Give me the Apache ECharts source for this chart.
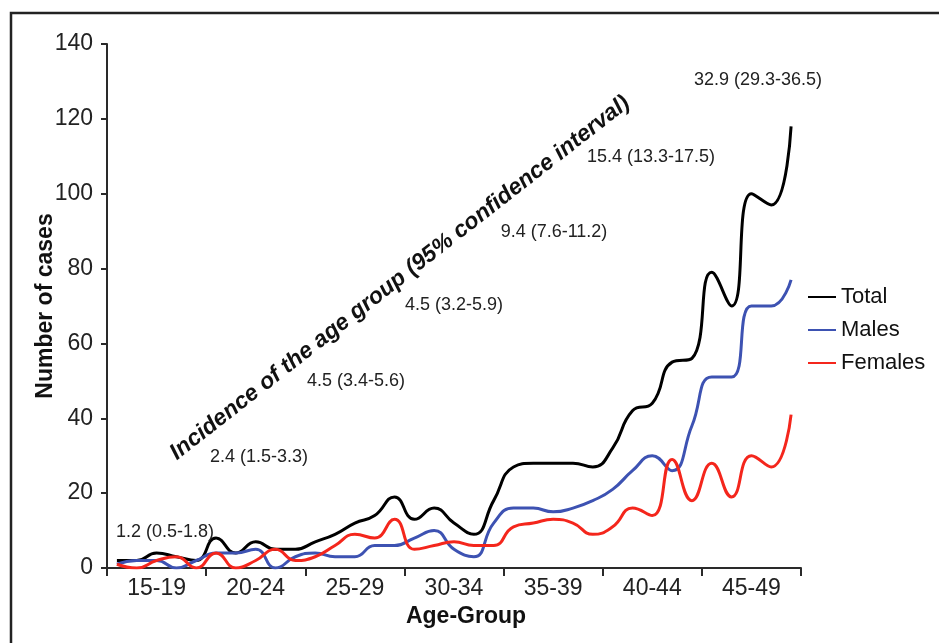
<!DOCTYPE html>
<html>
<head>
<meta charset="utf-8">
<script src="https://cdn.jsdelivr.net/npm/echarts@6/dist/echarts.min.js"></script>
<style>
html, body { margin: 0; padding: 0; background: #fff; }
#chart { width: 939px; height: 643px; }
</style>
</head>
<body>
<div id="chart"></div>
<script>
// Single years of age, grouped into five-year bands on the axis
const ages = ['15','16','17','18','19','20','21','22','23','24','25','26','27','28','29',
              '30','31','32','33','34','35','36','37','38','39','40','41','42','43','44',
              '45','46','47','48','49'];
const ageGroups = ['15-19','20-24','25-29','30-34','35-39','40-44','45-49'];

// Number of cases per year of age
const totalCases  = [2,2,4,3,2,8,4,7,5,5,7,9,12,14,19,13,16,12,9,18,27,28,28,28,27,32,42,44,55,56,79,70,100,97,118];
const maleCases   = [1,2,2,0,2,4,4,5,0,3,4,3,3,6,6,8,10,5,3,12,16,16,15,16,18,21,26,30,26,38,51,51,70,70,77];
const femaleCases = [1,0,2,3,0,4,0,2,5,2,3,6,9,8,13,5,6,7,6,6,11,12,13,12,9,11,16,14,29,18,28,19,30,27,41];

// Incidence per age group with 95% confidence interval
const groupIncidence = ['1.2 (0.5-1.8)','2.4 (1.5-3.3)','4.5 (3.4-5.6)','4.5 (3.2-5.9)',
                        '9.4 (7.6-11.2)','15.4 (13.3-17.5)','32.9 (29.3-36.5)'];
const incidenceTitle = 'Incidence of the age group (95% confidence interval)';

const yTicks = { min: 0, max: 140, step: 20 };

// Where each incidence note sits (pixel centres)
const incidenceLabelPos = [[165,532],[259,457],[356,381],[454,305],[554,232],[651,157],[758,80]];

const FONT = '"Liberation Sans", Arial, Helvetica, sans-serif';
const AXIS_COLOR = '#2a2a2a';

const chart = echarts.init(document.getElementById('chart'), null, { renderer: 'canvas' });

const graphics = [
  {
    type: 'rect', silent: true, z: 100,
    shape: { x: 11, y: 13, width: 960, height: 660 },
    style: { fill: 'none', stroke: '#222', lineWidth: 2.5 }
  },
  {
    type: 'text', silent: true, z: 50,
    x: 400, y: 278, rotation: 38 * Math.PI / 180,
    style: {
      text: incidenceTitle,
      font: 'italic bold 23px ' + FONT,
      fill: '#111', align: 'center', verticalAlign: 'middle'
    }
  }
];
groupIncidence.forEach((txt, i) => {
  graphics.push({
    type: 'text', silent: true, z: 50,
    x: incidenceLabelPos[i][0], y: incidenceLabelPos[i][1],
    style: {
      text: txt, font: '18px ' + FONT, fill: '#222',
      align: 'center', verticalAlign: 'middle'
    }
  });
});

const option = {
  backgroundColor: '#fff',
  animation: false,
  grid: { left: 107, right: 138, top: 44, bottom: 75, containLabel: false },
  legend: {
    orient: 'vertical',
    left: 807, top: 285,
    itemWidth: 28, itemHeight: 14, itemGap: 9,
    padding: 0,
    itemStyle: { opacity: 0 },
    textStyle: { fontFamily: FONT, fontSize: 22, color: '#111', lineHeight: 24 },
    data: ['Total', 'Males', 'Females']
  },
  xAxis: {
    type: 'category',
    data: ages,
    boundaryGap: true,
    name: 'Age-Group',
    nameLocation: 'middle',
    nameGap: 35,
    nameTextStyle: { fontFamily: FONT, fontSize: 23, fontWeight: 'bold', color: '#111', padding: [0, 0, 0, 24] },
    axisLine: { lineStyle: { color: AXIS_COLOR, width: 2 } },
    axisTick: {
      show: true, length: 8, lineStyle: { color: AXIS_COLOR, width: 2 },
      interval: (i) => i % 5 === 0
    },
    axisLabel: {
      interval: (i) => i % 5 === 2,
      formatter: (v, i) => ageGroups[Math.floor(i / 5)],
      fontFamily: FONT, fontSize: 23, color: '#222', margin: 9
    },
    splitLine: { show: false }
  },
  yAxis: {
    type: 'value',
    min: yTicks.min, max: yTicks.max, interval: yTicks.step,
    name: 'Number of cases',
    nameLocation: 'middle',
    nameGap: 50,
    nameMoveOverlap: false,
    nameRotate: 90,
    nameTextStyle: { fontFamily: FONT, fontSize: 23, fontWeight: 'bold', color: '#111' },
    axisLine: { show: true, lineStyle: { color: AXIS_COLOR, width: 2 } },
    axisTick: { show: true, length: 6, lineStyle: { color: AXIS_COLOR, width: 2 } },
    axisLabel: { fontFamily: FONT, fontSize: 23, color: '#222', margin: 14 },
    splitLine: { show: false }
  },
  series: [
    {
      name: 'Total', type: 'line', data: totalCases,
      smooth: 0.5, symbol: 'none',
      lineStyle: { color: '#000', width: 3 }, itemStyle: { color: '#000' }
    },
    {
      name: 'Males', type: 'line', data: maleCases,
      smooth: 0.5, symbol: 'none',
      lineStyle: { color: '#3d52b2', width: 3 }, itemStyle: { color: '#3d52b2' }
    },
    {
      name: 'Females', type: 'line', data: femaleCases,
      smooth: 0.5, symbol: 'none',
      lineStyle: { color: '#f4261c', width: 3 }, itemStyle: { color: '#f4261c' }
    }
  ],
  graphic: graphics
};

chart.setOption(option);
</script>
</body>
</html>
